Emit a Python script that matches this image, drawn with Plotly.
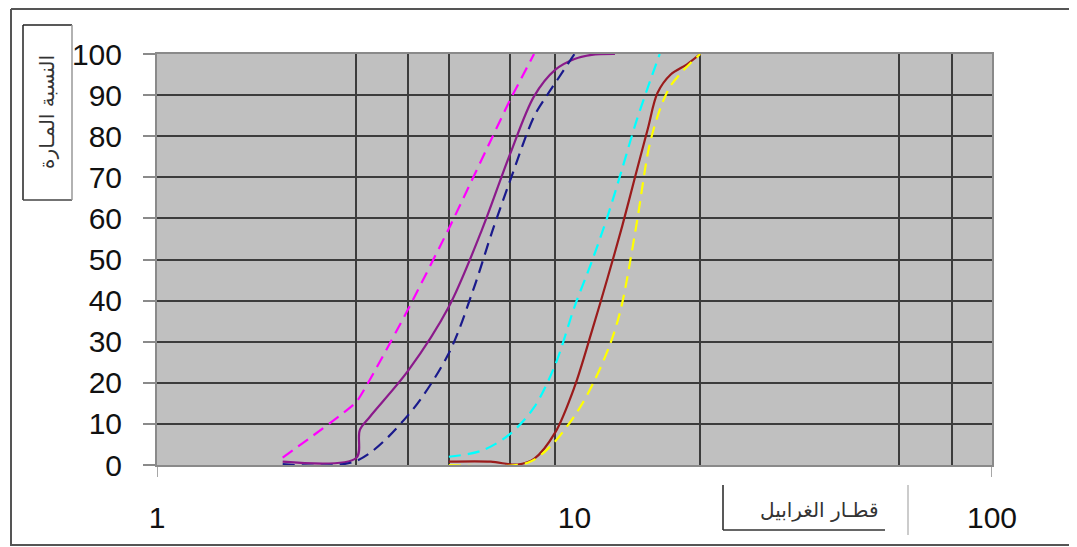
import plotly.graph_objects as go

# ---------------- data ----------------
magenta_x = [2, 3, 4, 5, 7, 8]
magenta_y = [1.8, 15.3, 38, 57.5, 88.7, 100]

purple_x = [2, 3, 3.06, 3.24, 4, 5, 6, 7, 8, 9, 10, 11, 12.5]
purple_y = [0.8, 1.7, 8.5, 11.8, 23, 38.5, 57.2, 75.5, 89.7, 96.2, 98.8, 99.8, 100]

navy_x = [2, 3, 4, 5, 5.72, 6.37, 7, 8, 8.6, 9, 10]
navy_y = [0.2, 1.0, 12.2, 27.2, 42.6, 57.2, 69, 84.8, 90, 93, 100]

cyan_x = [5, 6, 7, 8, 9, 10, 11, 12, 13, 14, 15, 16]
cyan_y = [2, 3.5, 7.5, 14, 24.5, 38.5, 49.5, 60.5, 72, 83, 92, 100]

brown_x = [5, 6.3, 7.3, 8, 9, 10, 11, 12, 13, 14, 15, 15.8, 17, 18.6, 20]
brown_y = [0.8, 0.8, 0.1, 1.5, 8, 19, 32.5, 45.5, 58, 70.5, 82, 90.5, 95, 97.5, 100]

yellow_x = [5, 7.7, 8.75, 10.1, 11.1, 12.2, 12.95, 14.07, 15.1, 16, 16.95, 18.3, 20]
yellow_y = [0, 0.5, 4.5, 12.6, 20, 29.7, 38.5, 58.4, 77.5, 86.4, 92.1, 96.2, 100]

x_tick_vals = [1, 10, 100]
x_tick_text = ["1", "10", "100"]
x_grid_vals = [3, 4, 5, 7, 9, 20, 60, 80]
y_tick_vals = [0, 10, 20, 30, 40, 50, 60, 70, 80, 90, 100]
y_grid_vals = [10, 20, 30, 40, 50, 60, 70, 80, 90]

x_title = "قطـار الغرابيل"
y_title = "النسبة المـارة"

# ---------------- figure ----------------
OFF = 8                      # page body margin
W, H = 1077 - OFF, 547 - OFF
L, R, T, B = 157, 992, 54, 465  # plot area in page pixels


def px(xp):
    return (xp - L) / (R - L)


def py(yp):
    return (B - yp) / (B - T)


series = [
    (magenta_x, magenta_y, "#FF00FF", "12px,7px", 0.3),
    (purple_x, purple_y, "#8B1A8B", "solid", 0.9),
    (navy_x, navy_y, "#1A1A8C", "12px,7px", 0.9),
    (cyan_x, cyan_y, "#00FFFF", "12px,7px", 0.9),
    (brown_x, brown_y, "#9B1B1B", "solid", 0.9),
    (yellow_x, yellow_y, "#FFFF00", "12px,7px", 0.9),
]

fig = go.Figure()
for xs, ys, col, dash, sm in series:
    fig.add_trace(go.Scatter(
        x=xs, y=ys, mode="lines",
        line=dict(color=col, width=2.2, dash=dash, shape="spline", smoothing=sm),
        showlegend=False, hoverinfo="skip",
    ))

tick_font = dict(family="Liberation Sans, Arial, sans-serif", size=30, color="#111")

fig.update_layout(
    width=W, height=H,
    margin=dict(l=L - OFF, r=W - (R - OFF), t=T - OFF, b=H - (B - OFF), pad=0),
    paper_bgcolor="white",
    plot_bgcolor="#C0C0C0",
    showlegend=False,
    xaxis=dict(
        type="log", range=[0, 2],
        tickmode="array", tickvals=x_tick_vals, ticktext=x_tick_text,
        showgrid=False, zeroline=False,
        ticks="", ticklabelstandoff=25,
        tickfont=tick_font,
        showline=True, linecolor="#8A8A8A", linewidth=2, mirror=True,
        minor=dict(tickmode="array", tickvals=x_grid_vals, showgrid=True,
                   gridcolor="#3C3C3C", gridwidth=2, ticks=""),
    ),
    yaxis=dict(
        range=[0, 100],
        tickmode="array", tickvals=y_tick_vals,
        showgrid=False, zeroline=False,
        ticks="outside", ticklen=12, tickcolor="#8A8A8A", tickwidth=1.5,
        ticklabelstandoff=15,
        tickfont=tick_font,
        showline=True, linecolor="#8A8A8A", linewidth=2, mirror=True,
        minor=dict(tickmode="array", tickvals=y_grid_vals, showgrid=True,
                   gridcolor="#3C3C3C", gridwidth=2, ticks=""),
    ),
)

shapes = []
# outer frame (left, top, bottom)
shapes.append(dict(type="line", xref="paper", yref="paper",
                   x0=px(11), x1=px(11), y0=py(9), y1=py(546),
                   line=dict(color="#555", width=2)))
shapes.append(dict(type="line", xref="paper", yref="paper",
                   x0=px(11), x1=px(1080), y0=py(9), y1=py(9),
                   line=dict(color="#555", width=2)))
shapes.append(dict(type="line", xref="paper", yref="paper",
                   x0=px(11), x1=px(1080), y0=py(545), y1=py(545),
                   line=dict(color="#555", width=2)))
# small x-axis tick marks at 1 and 100
for xv in (1, 100):
    shapes.append(dict(type="line", xref="x", yref="paper",
                       x0=xv, x1=xv, y0=0, y1=py(477),
                       line=dict(color="#8A8A8A", width=1.5)))
# y title box
shapes.append(dict(type="line", xref="paper", yref="paper",
                   x0=px(23), x1=px(23), y0=py(25), y1=py(200),
                   line=dict(color="#222", width=1.5)))
shapes.append(dict(type="line", xref="paper", yref="paper",
                   x0=px(23), x1=px(72), y0=py(25), y1=py(25),
                   line=dict(color="#222", width=1.5)))
shapes.append(dict(type="line", xref="paper", yref="paper",
                   x0=px(23), x1=px(72), y0=py(200), y1=py(200),
                   line=dict(color="#444", width=1.5)))
shapes.append(dict(type="line", xref="paper", yref="paper",
                   x0=px(72), x1=px(72), y0=py(25), y1=py(200),
                   line=dict(color="#999", width=1.5)))
# x title box
shapes.append(dict(type="line", xref="paper", yref="paper",
                   x0=px(723), x1=px(723), y0=py(485), y1=py(530),
                   line=dict(color="#222", width=1.5)))
shapes.append(dict(type="line", xref="paper", yref="paper",
                   x0=px(723), x1=px(885), y0=py(530), y1=py(530),
                   line=dict(color="#333", width=1.5)))
shapes.append(dict(type="line", xref="paper", yref="paper",
                   x0=px(908), x1=px(908), y0=py(485), y1=py(535),
                   line=dict(color="#BBB", width=1.5)))
fig.update_layout(shapes=shapes)

fig.add_annotation(text=y_title, xref="paper", yref="paper",
                   x=px(47), y=py(112), xanchor="center", yanchor="middle",
                   showarrow=False, textangle=-90,
                   font=dict(family="DejaVu Sans, sans-serif", size=20, color="#333"))
fig.add_annotation(text=x_title, xref="paper", yref="paper",
                   x=px(819), y=py(510), xanchor="center", yanchor="middle",
                   showarrow=False,
                   font=dict(family="DejaVu Sans, sans-serif", size=20, color="#333"))

fig.write_html("out.html")
